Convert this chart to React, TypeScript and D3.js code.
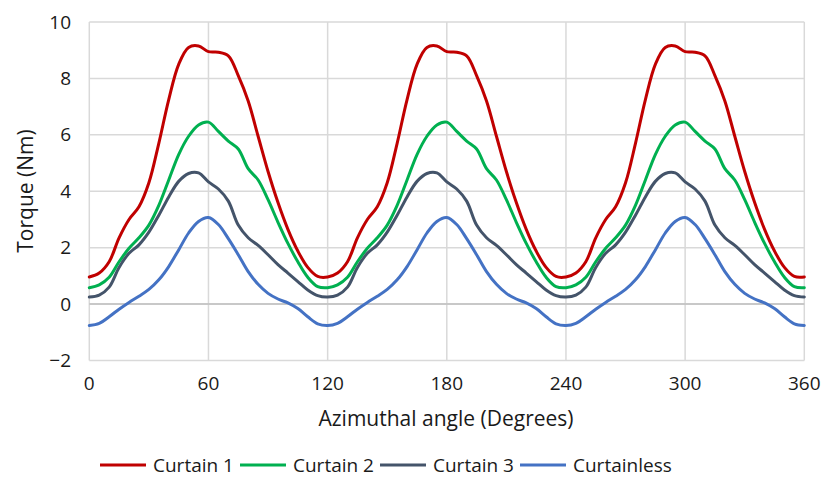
import React from "react";
import * as d3 from "d3";

// Azimuthal angle samples, every 5 degrees over a full revolution
const angles: number[] = d3.range(0, 361, 5);

// Torque (Nm) per blade configuration, one value per angle sample
const curtain1: number[] = [
  0.96, 1.1, 1.5, 2.35, 3.0, 3.45, 4.3, 5.7, 7.25, 8.5, 9.1, 9.15, 8.95, 8.93, 8.8, 8.1, 7.2, 5.95, 4.7, 3.6, 2.65, 1.88, 1.3, 0.98,
  0.96, 1.1, 1.5, 2.35, 3.0, 3.45, 4.3, 5.7, 7.25, 8.5, 9.1, 9.15, 8.95, 8.93, 8.8, 8.1, 7.2, 5.95, 4.7, 3.6, 2.65, 1.88, 1.3, 0.98,
  0.96, 1.1, 1.5, 2.35, 3.0, 3.45, 4.3, 5.7, 7.25, 8.5, 9.1, 9.15, 8.95, 8.93, 8.8, 8.1, 7.2, 5.95, 4.7, 3.6, 2.65, 1.88, 1.3, 0.98,
  0.96,
];
const curtain2: number[] = [
  0.58, 0.68, 0.95, 1.5, 1.98, 2.35, 2.8, 3.5, 4.4, 5.3, 5.95, 6.35, 6.45, 6.12, 5.78, 5.5, 4.8, 4.4, 3.7, 2.9, 2.15, 1.5, 0.95, 0.62,
  0.58, 0.68, 0.95, 1.5, 1.98, 2.35, 2.8, 3.5, 4.4, 5.3, 5.95, 6.35, 6.45, 6.12, 5.78, 5.5, 4.8, 4.4, 3.7, 2.9, 2.15, 1.5, 0.95, 0.62,
  0.58, 0.68, 0.95, 1.5, 1.98, 2.35, 2.8, 3.5, 4.4, 5.3, 5.95, 6.35, 6.45, 6.12, 5.78, 5.5, 4.8, 4.4, 3.7, 2.9, 2.15, 1.5, 0.95, 0.62,
  0.58,
];
const curtain3: number[] = [
  0.25, 0.32, 0.6, 1.3, 1.8, 2.1, 2.55, 3.15, 3.8, 4.35, 4.63, 4.65, 4.33, 4.08, 3.65, 2.8, 2.35, 2.08, 1.75, 1.4, 1.1, 0.8, 0.5, 0.3,
  0.25, 0.32, 0.6, 1.3, 1.8, 2.1, 2.55, 3.15, 3.8, 4.35, 4.63, 4.65, 4.33, 4.08, 3.65, 2.8, 2.35, 2.08, 1.75, 1.4, 1.1, 0.8, 0.5, 0.3,
  0.25, 0.32, 0.6, 1.3, 1.8, 2.1, 2.55, 3.15, 3.8, 4.35, 4.63, 4.65, 4.33, 4.08, 3.65, 2.8, 2.35, 2.08, 1.75, 1.4, 1.1, 0.8, 0.5, 0.3,
  0.25,
];
const curtainless: number[] = [
  -0.76, -0.68, -0.45, -0.18, 0.06, 0.28, 0.52, 0.86, 1.33, 1.92, 2.52, 2.93, 3.07, 2.82, 2.32, 1.75, 1.15, 0.7, 0.38, 0.18, 0.04, -0.16, -0.45, -0.7,
  -0.76, -0.68, -0.45, -0.18, 0.06, 0.28, 0.52, 0.86, 1.33, 1.92, 2.52, 2.93, 3.07, 2.82, 2.32, 1.75, 1.15, 0.7, 0.38, 0.18, 0.04, -0.16, -0.45, -0.7,
  -0.76, -0.68, -0.45, -0.18, 0.06, 0.28, 0.52, 0.86, 1.33, 1.92, 2.52, 2.93, 3.07, 2.82, 2.32, 1.75, 1.15, 0.7, 0.38, 0.18, 0.04, -0.16, -0.45, -0.7,
  -0.76,
];

const seriesNames: string[] = ["Curtain 1", "Curtain 2", "Curtain 3", "Curtainless"];
const seriesColors: string[] = ["#C00000", "#00B050", "#44546A", "#4472C4"];
const seriesValues: number[][] = [curtain1, curtain2, curtain3, curtainless];

const xTicks: number[] = [0, 60, 120, 180, 240, 300, 360];
const yTicks: number[] = [-2, 0, 2, 4, 6, 8, 10];

const W = 826;
const H = 492;
const FONT = "'Open Sans', sans-serif";

export default function App() {
  const x = d3.scaleLinear().domain([0, 360]).range([89.3, 804.3]);
  const y = d3.scaleLinear().domain([-2, 10]).range([360.5, 22]);

  const line = d3
    .line<[number, number]>()
    .x((d) => x(d[0]))
    .y((d) => y(d[1]))
    .curve(d3.curveCatmullRom.alpha(0.5));

  const legendX = [100, 240, 380, 520];

  return (
    <svg
      width={W}
      height={H}
      style={{ position: "absolute", left: 0, top: 0, background: "#fff" }}
      fontFamily={FONT}
    >
      {/* grid */}
      {yTicks.map((t) => (
        <line key={"gy" + t} x1={x(0)} x2={x(360)} y1={y(t)} y2={y(t)} stroke="#D9D9D9" strokeWidth={1.5} />
      ))}
      {xTicks.map((t) => (
        <line key={"gx" + t} x1={x(t)} x2={x(t)} y1={y(-2)} y2={y(10)} stroke="#D9D9D9" strokeWidth={1.5} />
      ))}
      <line x1={x(0)} x2={x(360)} y1={y(0)} y2={y(0)} stroke="#BFBFBF" strokeWidth={1.5} />

      {/* series */}
      {seriesValues.map((vals, i) => (
        <path
          key={seriesNames[i]}
          d={line(angles.map((a, j) => [a, vals[j]] as [number, number])) || ""}
          fill="none"
          stroke={seriesColors[i]}
          strokeWidth={3}
          strokeLinejoin="round"
          strokeLinecap="round"
        />
      ))}

      {/* y tick labels */}
      {yTicks.map((t) => (
        <text key={"ty" + t} x={71} y={y(t) + 6.5} textAnchor="end" fontSize={19} fill="#1a1a1a">
          {t < 0 ? "\u2212" + Math.abs(t) : t}
        </text>
      ))}
      {/* x tick labels */}
      {xTicks.map((t) => (
        <text key={"tx" + t} x={x(t)} y={390} textAnchor="middle" fontSize={19} fill="#1a1a1a">
          {t}
        </text>
      ))}

      <text x={446} y={426} textAnchor="middle" fontSize={21} fill="#1a1a1a">
        Azimuthal angle (Degrees)
      </text>
      <text
        transform={`translate(33,191) rotate(-90)`}
        textAnchor="middle"
        fontSize={21}
        fill="#1a1a1a"
      >
        Torque (Nm)
      </text>

      {/* legend */}
      {seriesNames.map((n, i) => (
        <g key={"lg" + n} transform={`translate(${legendX[i]},465)`}>
          <line x1={0} x2={46} y1={0} y2={0} stroke={seriesColors[i]} strokeWidth={3} />
          <text x={53} y={7} fontSize={19} fill="#1a1a1a">
            {n}
          </text>
        </g>
      ))}
    </svg>
  );
}
